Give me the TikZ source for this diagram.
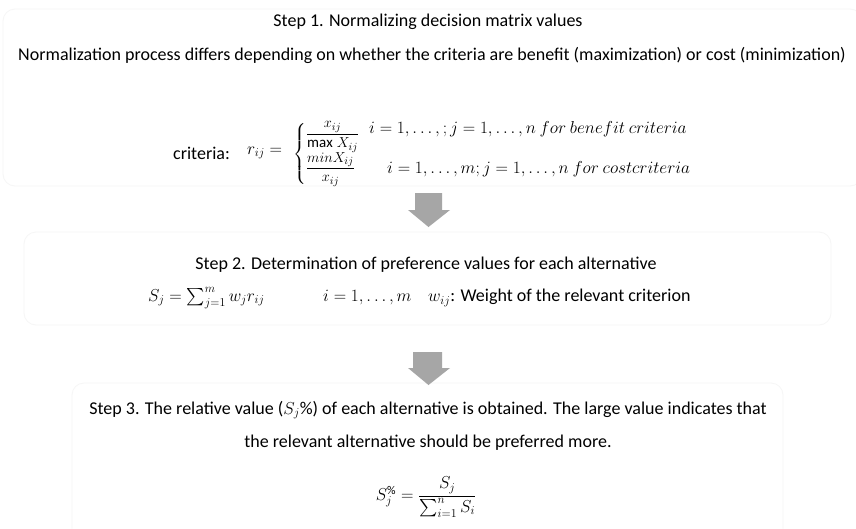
\documentclass[tikz,border=0pt]{standalone}
\usepackage{fontspec}
\setmainfont{Carlito}
\usepackage{amsmath}
\usetikzlibrary{positioning}
\definecolor{arrowgray}{RGB}{166,166,166}
\definecolor{frameline}{RGB}{246,246,246}

\begin{document}
\begin{tikzpicture}[x=1pt, y=-1pt,
  steptext/.style={font=\fontsize{18}{22}\selectfont, inner sep=0pt},
  mathtext/.style={font=\fontsize{17}{20}\selectfont, inner sep=0pt},
  fracpart/.style={font=\fontsize{15}{18}\selectfont, inner sep=0pt},
  stepframe/.style={draw=frameline, line width=0.8pt, rounded corners=12pt},
  downarrow/.style={fill=arrowgray}
]
  \useasboundingbox (0,0) rectangle (856,528);
  \fill[white] (0,0) rectangle (856,528);

  % faint frames behind the steps
  \draw[stepframe] (3,9) rectangle (862,186);
  \draw[stepframe] (24,232) rectangle (831,325);
  \draw[stepframe] (72,383) rectangle (783,545);

  % Step 1
  \node[steptext] (s1title) at (428,22) {Step 1. Normalizing decision matrix values};
  \node[steptext] (s1desc) at (432,55) {Normalization process differs depending on whether the criteria are benefit (maximization) or cost (minimization)};
  \node[steptext, anchor=west] (crit) at (173,153) {criteria:};
  \node[mathtext, anchor=west] (rij) at (247,153) {$r_{ij}=$};
  \node[fracpart, anchor=west] (cases) at (293,154) {$\left\{\begin{array}{@{}l@{}}
      \dfrac{x_{ij}}{\mathrm{max}\;X_{ij}}\\[1pt]
      \dfrac{minX_{ij}}{x_{ij}}
    \end{array}\right.$};
  \node[mathtext, anchor=west] (benefit) at (369,129) {$i=1,\ldots,;j=1,\ldots,n\ for\ benefit\ criteria$};
  \node[mathtext, anchor=west] (cost) at (387,169) {$i=1,\ldots,m;j=1,\ldots,n\ for\ costcriteria$};

  \fill[downarrow] (415,193) -- (442,193) -- (442,210) -- (450,210) -- (428.5,227)
    -- (408,210) -- (415,210) -- cycle;

  % Step 2
  \node[steptext] (s2title) at (426,265) {Step 2. Determination of preference values for each alternative};
  \node[mathtext, anchor=west] (sj) at (148,298) {$S_j=\sum_{j=1}^{m} w_j r_{ij}$};
  \node[mathtext, anchor=west] (irange) at (323,298) {$i=1,\ldots,m$};
  \node[steptext, anchor=west] (weight) at (428,298) {$w_{ij}$: Weight of the relevant criterion};

  \fill[downarrow] (413,352) -- (442,352) -- (442,368) -- (450,368) -- (428.5,385)
    -- (408,368) -- (413,368) -- cycle;

  % Step 3
  \node[steptext] (s3a) at (428,410) {Step 3. The relative value ($S_j$\%) of each alternative is obtained. The large value indicates that};
  \node[steptext] (s3b) at (428,443) {the relevant alternative should be preferred more.};
  \node[mathtext] (spct) at (426,497) {$S_j^{\%}=\dfrac{S_j}{\sum_{i=1}^{n} S_i}$};
\end{tikzpicture}
\end{document}
